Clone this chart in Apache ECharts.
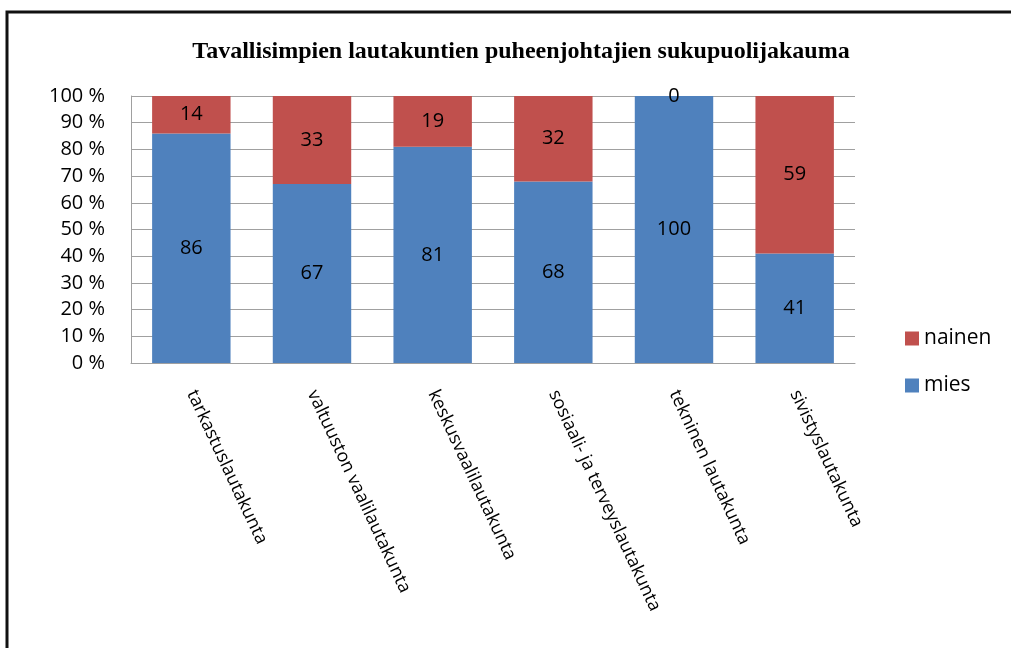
<!DOCTYPE html>
<html><head><meta charset="utf-8">
<script src="https://cdn.jsdelivr.net/npm/echarts@6/dist/echarts.min.js"></script>
<style>html,body{margin:0;padding:0;background:#fff}#c{width:1011px;height:648px}</style>
</head><body><div id="c"></div>
<script>
const categories = ['tarkastuslautakunta','valtuuston vaalilautakunta','keskusvaalilautakunta','sosiaali- ja terveyslautakunta','tekninen lautakunta','sivistyslautakunta'];
const mies = [86, 67, 81, 68, 100, 41];
const nainen = [14, 33, 19, 32, 0, 59];
const yTicks = [0,10,20,30,40,50,60,70,80,90,100];

const chart = echarts.init(document.getElementById('c'));
const font = '"Open Sans", "DejaVu Sans", sans-serif';
chart.setOption({
  animation: false,
  title: {
    text: 'Tavallisimpien lautakuntien puheenjohtajien sukupuolijakauma',
    left: 516, top: 35, textAlign: 'center',
    textStyle: {fontFamily: '"Liberation Serif", serif', fontWeight: 'bold', fontSize: 24, color: '#000'}
  },
  graphic: [{
    type: 'rect', shape: {x: 7, y: 12, width: 1100, height: 700},
    style: {fill: 'none', stroke: '#111', lineWidth: 3}
  }],
  legend: {
    orient: 'vertical', left: 900, top: 323, itemGap: 26,
    itemWidth: 14, itemHeight: 14, icon: 'rect',
    data: ['nainen', 'mies'],
    textStyle: {fontFamily: font, fontSize: 21, color: '#000'}
  },
  grid: {left: 131, top: 96, width: 724, height: 267, containLabel: false},
  xAxis: {
    type: 'category', data: categories,
    axisLine: {lineStyle: {color: '#a0a0a0'}},
    axisTick: {show: false},
    axisLabel: {rotate: -65, interval: 0, margin: 28, fontFamily: font, fontSize: 18, color: '#000', align: 'left', verticalAlign: 'middle'}
  },
  yAxis: {
    type: 'value', min: 0, max: 100, interval: 10,
    axisLine: {show: true, lineStyle: {color: '#a0a0a0'}},
    axisTick: {show: false},
    splitLine: {lineStyle: {color: '#a0a0a0'}},
    axisLabel: {fontFamily: font, fontSize: 20, color: '#000', margin: 26,
      formatter: v => yTicks.includes(v) ? v + ' %' : ''}
  },
  series: [
    {name: 'mies', type: 'bar', stack: 's', data: mies, barWidth: '65%',
     itemStyle: {color: '#4f81bd'},
     label: {show: true, position: 'inside', fontFamily: font, fontSize: 20, color: '#000'}},
    {name: 'nainen', type: 'bar', stack: 's', data: nainen, barWidth: '65%',
     itemStyle: {color: '#c0504d'},
     label: {show: true, position: 'inside', fontFamily: font, fontSize: 20, color: '#000'}}
  ]
});
</script></body></html>
